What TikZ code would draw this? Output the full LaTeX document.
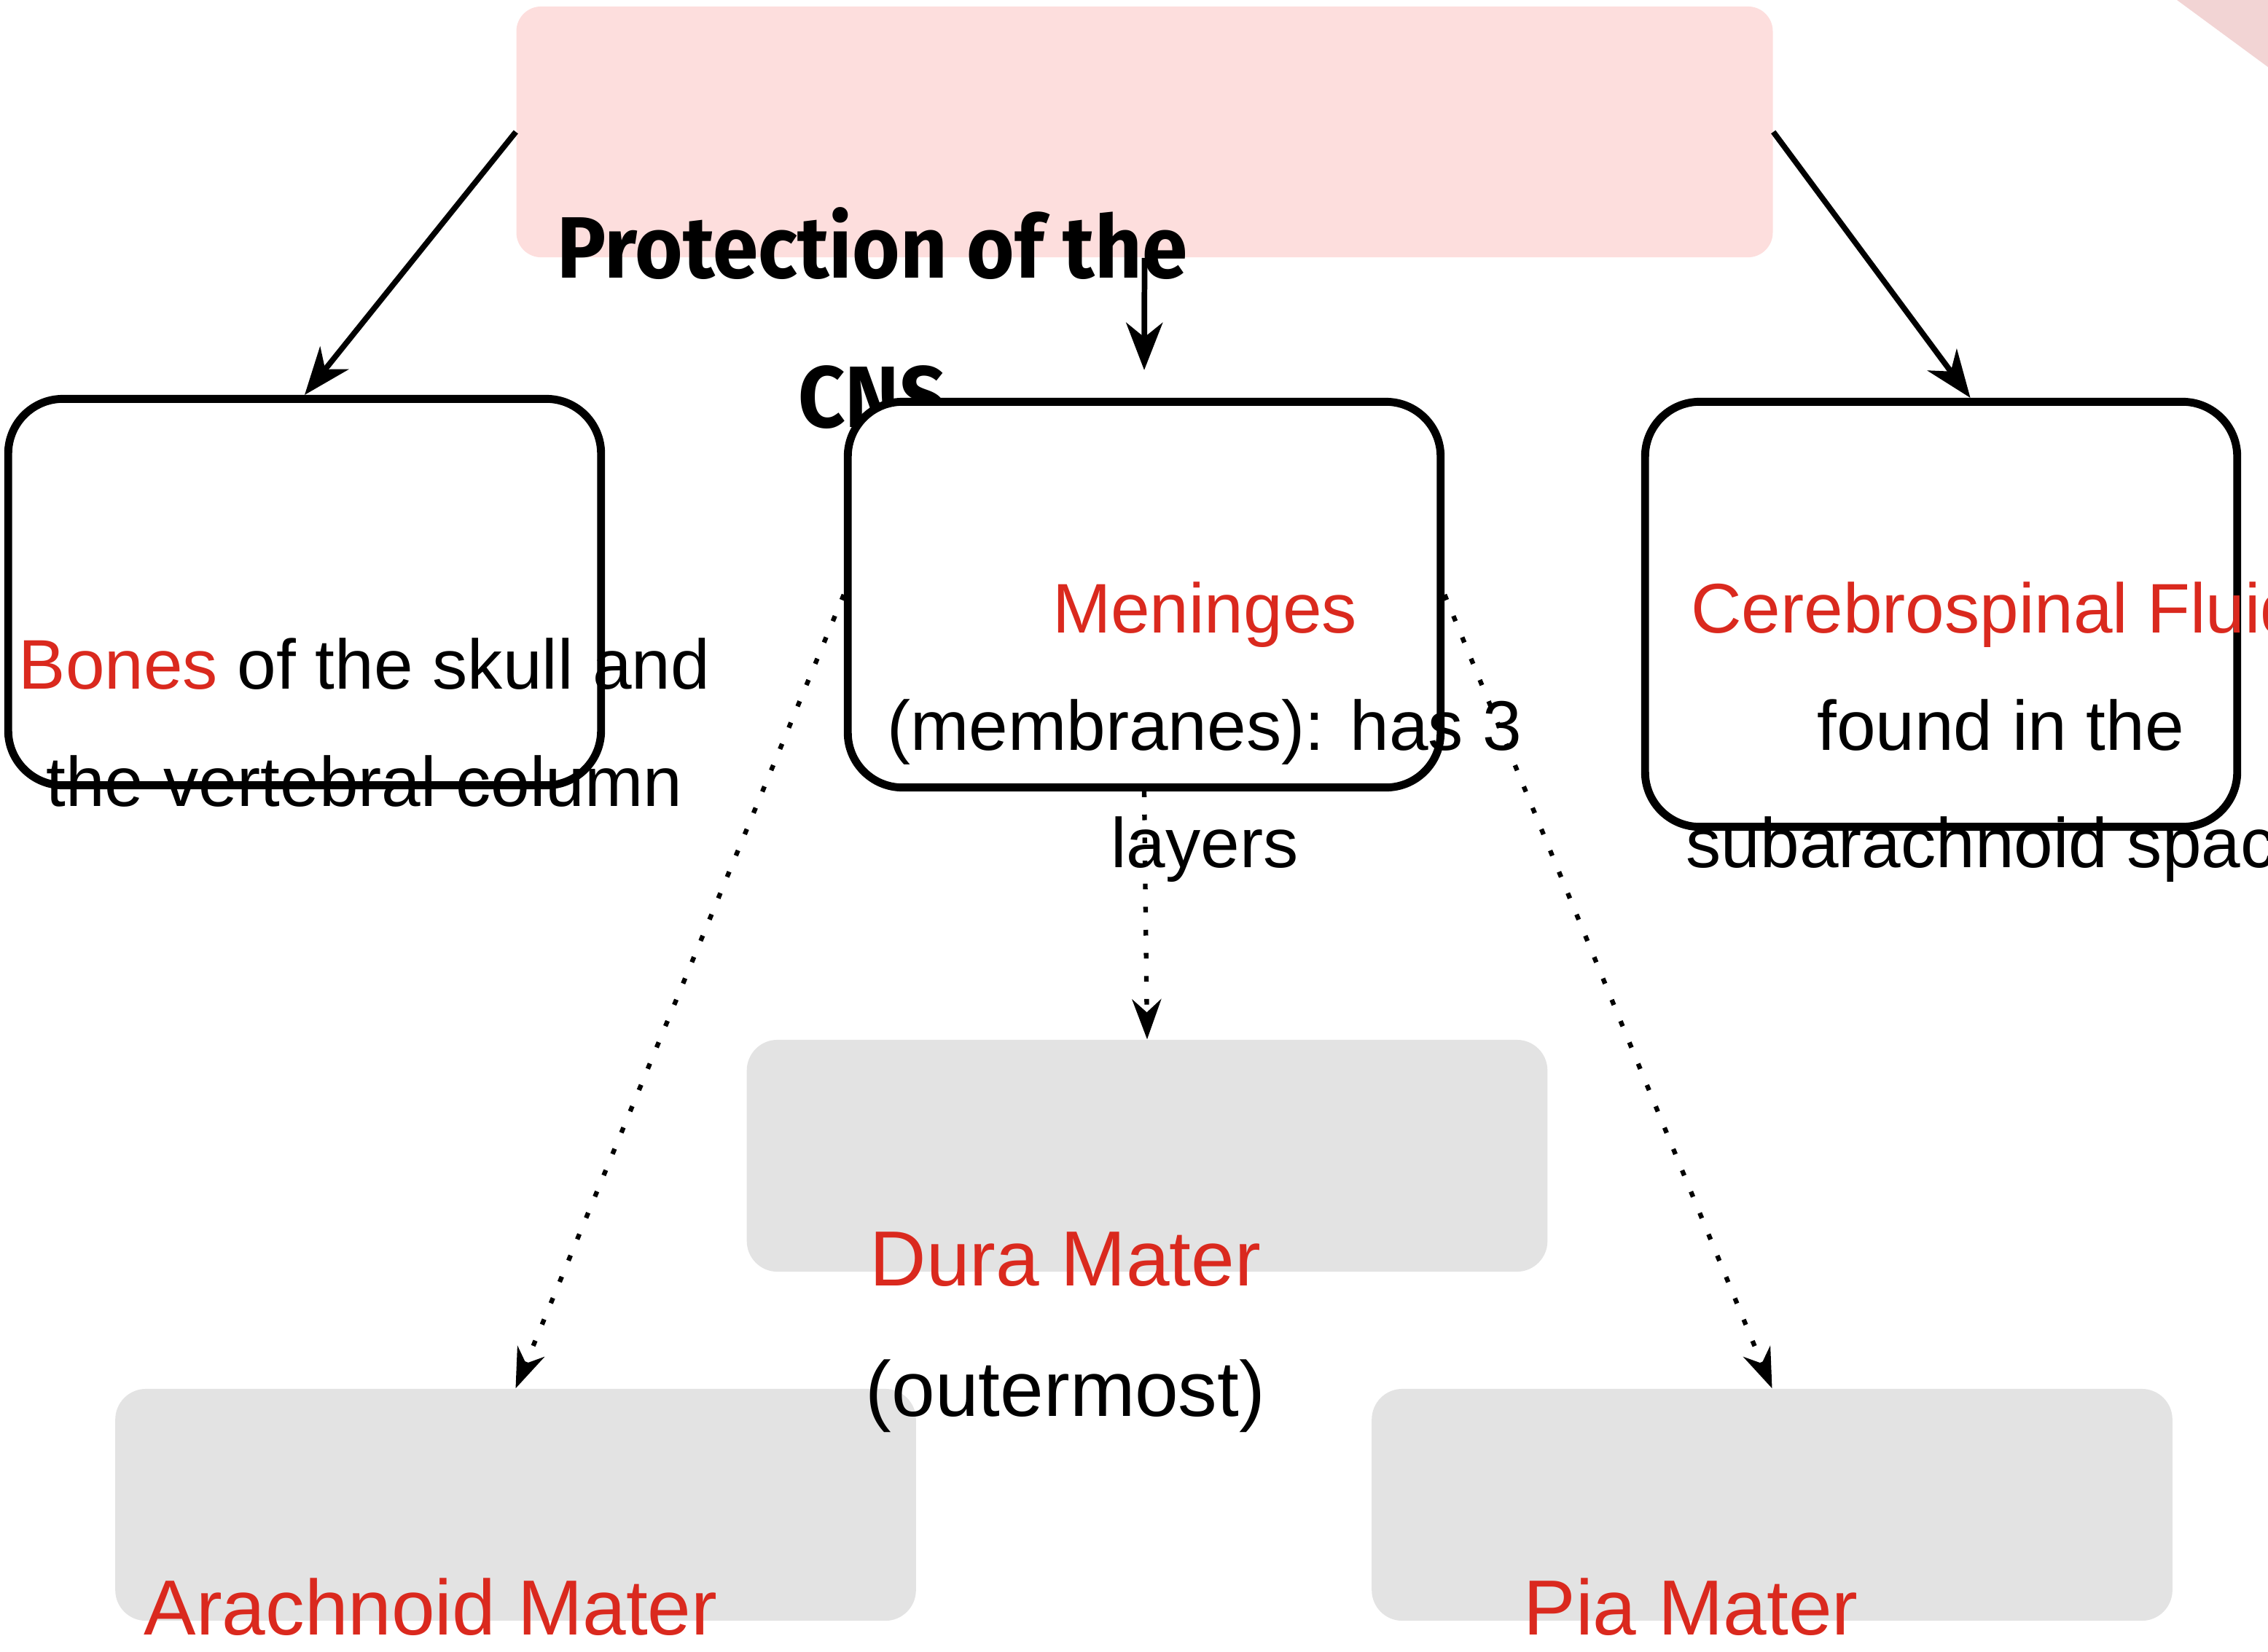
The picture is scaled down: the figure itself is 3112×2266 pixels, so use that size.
\documentclass[tikz,border=0pt]{standalone}
\usepackage{fontspec}
\setmainfont{Liberation Sans}
\newfontfamily\titlefont{Fira Sans}[FakeStretch=0.94]
\usetikzlibrary{arrows.meta,calc}
\definecolor{hlred}{RGB}{218,41,30}
\definecolor{pinkbg}{RGB}{253,222,221}
\definecolor{greybg}{RGB}{227,227,227}
\definecolor{cornerpink}{RGB}{242,212,212}
\begin{document}
\begin{tikzpicture}[x=0.01cm,y=-0.01cm,
  roundbox/.style={draw=black,line width=3.1pt,fill=white,rounded corners=0.75cm,inner sep=0pt,minimum width=8.13cm},
  greybox/.style={fill=greybg,rounded corners=0.42cm,inner sep=0pt,minimum width=10.98cm,minimum height=3.18cm},
  linetxt/.style={anchor=base,inner sep=0pt,font=\fontsize{27.4}{33}\selectfont},
  bigtxt/.style={anchor=base,inner sep=0pt,font=\fontsize{30.5}{36}\selectfont},
  titletxt/.style={anchor=base,inner sep=0pt,font=\titlefont\bfseries\fontsize{34}{40}\selectfont},
  solidarrow/.style={line width=2.2pt,-{Stealth[length=0.65cm,width=0.5cm,inset=0.2cm]}},
  dotarrow/.style={line width=1.8pt,dash pattern=on 2.2pt off 6.8pt,-{Stealth[length=0.55cm,width=0.4cm,inset=0.18cm]}}]

\useasboundingbox (0,0) rectangle (3112,2266);
\clip (0,0) rectangle (3112,2266);

% corner decoration
\fill[cornerpink] (2987,0) -- (3112,0) -- (3112,92) -- cycle;

% top box and title
\node[fill=pinkbg,rounded corners=0.34cm,inner sep=0pt,minimum width=17.23cm,minimum height=3.44cm] (top) at (1570.5,181) {};
\node[titletxt] (title1) at (1197,381) {Protection of the};
\node[titletxt] (title2) at (1197,586) {CNS};

% second row boxes
\node[roundbox,minimum height=5.30cm] (bones) at (418,812.5) {};
\node[roundbox,minimum height=5.29cm] (men) at (1570,816) {};
\node[roundbox,minimum height=5.83cm,minimum width=8.12cm] (csf) at (2663.5,843) {};

% grey boxes
\node[greybox] (dura) at (1574,1586) {};
\node[greybox] (arach) at (707.5,2065) {};
\node[greybox] (pia) at (2431.5,2065) {};

% connectors
\draw[solidarrow] (top.west) -- (bones.north);
\draw[solidarrow] (top.east) -- ([xshift=0.4cm]csf.north);
\draw[solidarrow] (top.south) -- ([yshift=0.38cm]men.north);
\draw[dotarrow] (men.west) -- (arach.north);
\draw[dotarrow] (men.east) -- (pia.north);
\draw[dotarrow] (men.south) -- (dura.north);

% texts
\node[linetxt] (bonesA) at (500,945) {{\color{hlred}Bones} of the skull and};
\node[linetxt] (bonesB) at (500,1106) {the vertebral column};
\node[linetxt,text=hlred] (menA) at (1653,868) {Meninges};
\node[linetxt] (menB) at (1653,1029) {(membranes): has 3};
\node[linetxt] (menC) at (1653,1190) {layers};
\node[linetxt,text=hlred] (csfA) at (2738,868) {Cerebrospinal Fluid};
\node[linetxt] (csfB) at (2745,1029) {found in the};
\node[linetxt] (csfC) at (2745,1190) {subarachnoid space};
\node[bigtxt,text=hlred] (duraA) at (1462,1764) {Dura Mater};
\node[bigtxt] (duraB) at (1462,1943) {(outermost)};
\node[bigtxt,text=hlred] (arachA) at (591,2243) {Arachnoid Mater};
\node[bigtxt,text=hlred] (piaA) at (2320,2243) {Pia Mater};
\end{tikzpicture}
\end{document}
